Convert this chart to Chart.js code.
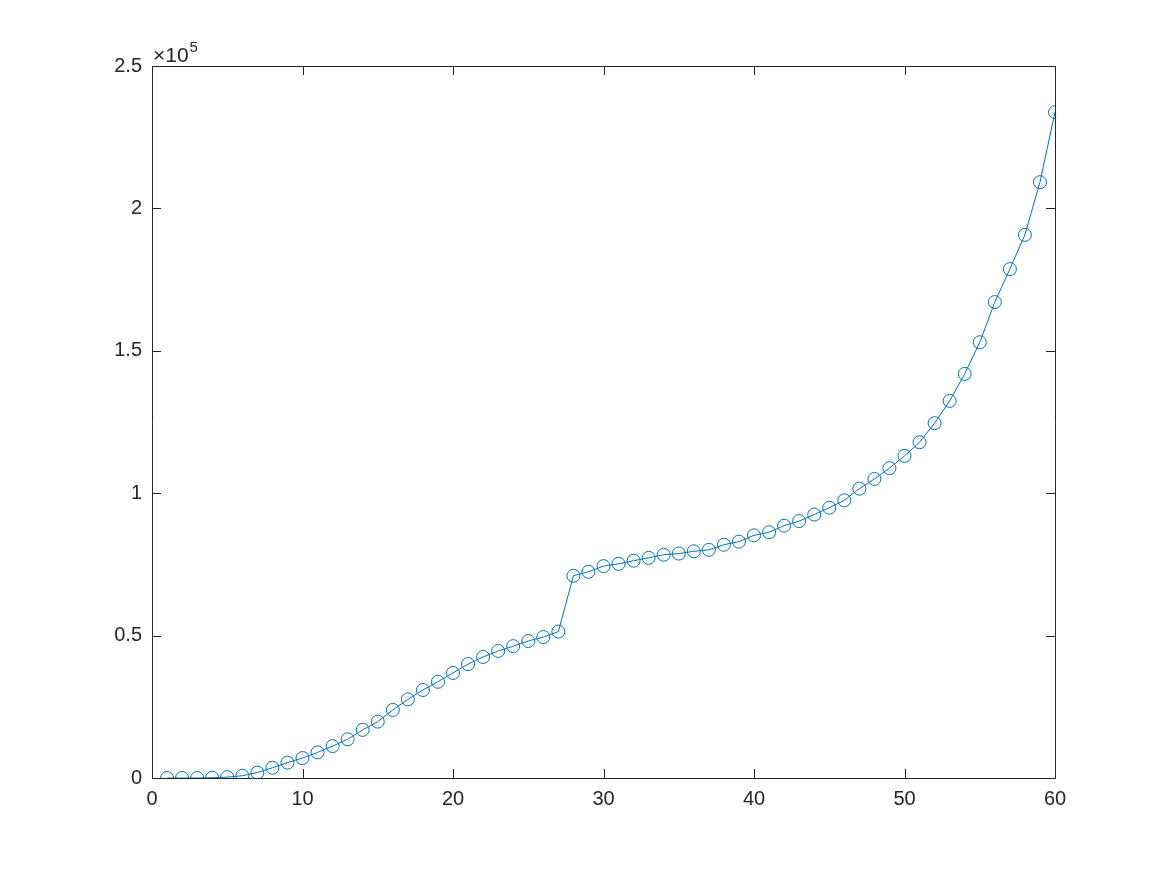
<!DOCTYPE html>
<html>
<head>
<meta charset="utf-8">
<script src="https://cdn.jsdelivr.net/npm/chart.js@4.4.1/dist/chart.umd.min.js"></script>
<style>
html,body{margin:0;padding:0;background:#fff;}
canvas{display:block;}
</style>
</head>
<body>
<canvas id="c" width="1167" height="875"></canvas>
<script>
const xValues = [1,2,3,4,5,6,7,8,9,10,11,12,13,14,15,16,17,18,19,20,21,22,23,24,25,26,27,28,29,30,31,32,33,34,35,36,37,38,39,40,41,42,43,44,45,46,47,48,49,50,51,52,53,54,55,56,57,58,59,60];
const yValues = [0,0,0,100,300,800,1900,3600,5400,7000,9000,11200,13600,16900,19800,23900,27600,30900,33800,36900,40000,42500,44600,46300,48100,49500,51400,71000,72400,74400,75200,76300,77300,78400,78800,79600,80100,81900,83000,85200,86300,88600,90200,92500,94900,97500,101600,105000,108800,113100,117900,124600,132400,141900,153000,167100,178700,190700,209200,233800];
const xTicks = [0,10,20,30,40,50,60];
const yTicks = [0,50000,100000,150000,200000,250000];
const yTickLabels = ['0','0.5','1','1.5','2','2.5'];
const exponentBase = '\u00d710';
const exponentPower = '5';

const points = xValues.map((x,i)=>({x:x,y:yValues[i]}));
const AX = '#262626';
const FONT = '"Liberation Sans", Arial, Helvetica, sans-serif';

const boxPlugin = {
  id:'box',
  afterDraw(chart){
    const ctx = chart.ctx, a = chart.chartArea;
    const xs = chart.scales.x, ys = chart.scales.y;
    ctx.save();
    ctx.strokeStyle = AX; ctx.lineWidth = 1;
    ctx.beginPath();
    ctx.rect(Math.round(a.left)+0.5, Math.round(a.top)+0.5, Math.round(a.right-a.left), Math.round(a.bottom-a.top));
    ctx.stroke();
    const L = 9;
    ctx.beginPath();
    xTicks.forEach(v=>{
      const px = Math.round(xs.getPixelForValue(v))+0.5;
      ctx.moveTo(px, a.bottom); ctx.lineTo(px, a.bottom-L);
      ctx.moveTo(px, a.top); ctx.lineTo(px, a.top+L);
    });
    yTicks.forEach(v=>{
      const py = Math.round(ys.getPixelForValue(v))+0.5;
      ctx.moveTo(a.left, py); ctx.lineTo(a.left+L, py);
      ctx.moveTo(a.right, py); ctx.lineTo(a.right-L, py);
    });
    ctx.stroke();
    // exponent label
    ctx.fillStyle = AX;
    ctx.textBaseline = 'alphabetic';
    ctx.textAlign = 'left';
    ctx.font = '21px ' + FONT;
    ctx.fillText(exponentBase, a.left+1, a.top-4);
    const w = ctx.measureText(exponentBase).width;
    ctx.font = '15px ' + FONT;
    ctx.fillText(exponentPower, a.left+2+w, a.top-14);
    ctx.restore();
  }
};

new Chart(document.getElementById('c'), {
  type:'scatter',
  data:{datasets:[{
    data:points,
    showLine:true,
    borderColor:'#0072BD',
    borderWidth:1,
    backgroundColor:'rgba(0,0,0,0)',
    pointBackgroundColor:'rgba(0,0,0,0)',
    pointBorderColor:'#0072BD',
    pointBorderWidth:1,
    pointRadius:6.5,
    pointHoverRadius:6.5,
    tension:0
  }]},
  options:{
    responsive:false,
    animation:false,
    events:[],
    layout:{padding:{left:0,top:66,right:112,bottom:0}},
    plugins:{legend:{display:false},tooltip:{enabled:false}},
    scales:{
      x:{
        type:'linear', min:0, max:60,
        afterBuildTicks(s){ s.ticks = xTicks.map(v=>({value:v})); },
        afterFit(s){ s.height = 97; },
        grid:{display:false, drawTicks:false},
        border:{display:false},
        ticks:{color:AX, font:{family:FONT,size:20}, padding:9, maxRotation:0, autoSkip:false,
          callback:(v)=>String(v)}
      },
      y:{
        type:'linear', min:0, max:250000,
        afterBuildTicks(s){ s.ticks = yTicks.map(v=>({value:v})); },
        afterFit(s){ s.width = 152; },
        grid:{display:false, drawTicks:false},
        border:{display:false},
        ticks:{color:AX, font:{family:FONT,size:20}, padding:10, autoSkip:false,
          callback:(v)=>{ const i = yTicks.indexOf(v); return i>=0 ? yTickLabels[i] : ''; }}
      }
    }
  },
  plugins:[boxPlugin]
});
</script>
</body>
</html>
